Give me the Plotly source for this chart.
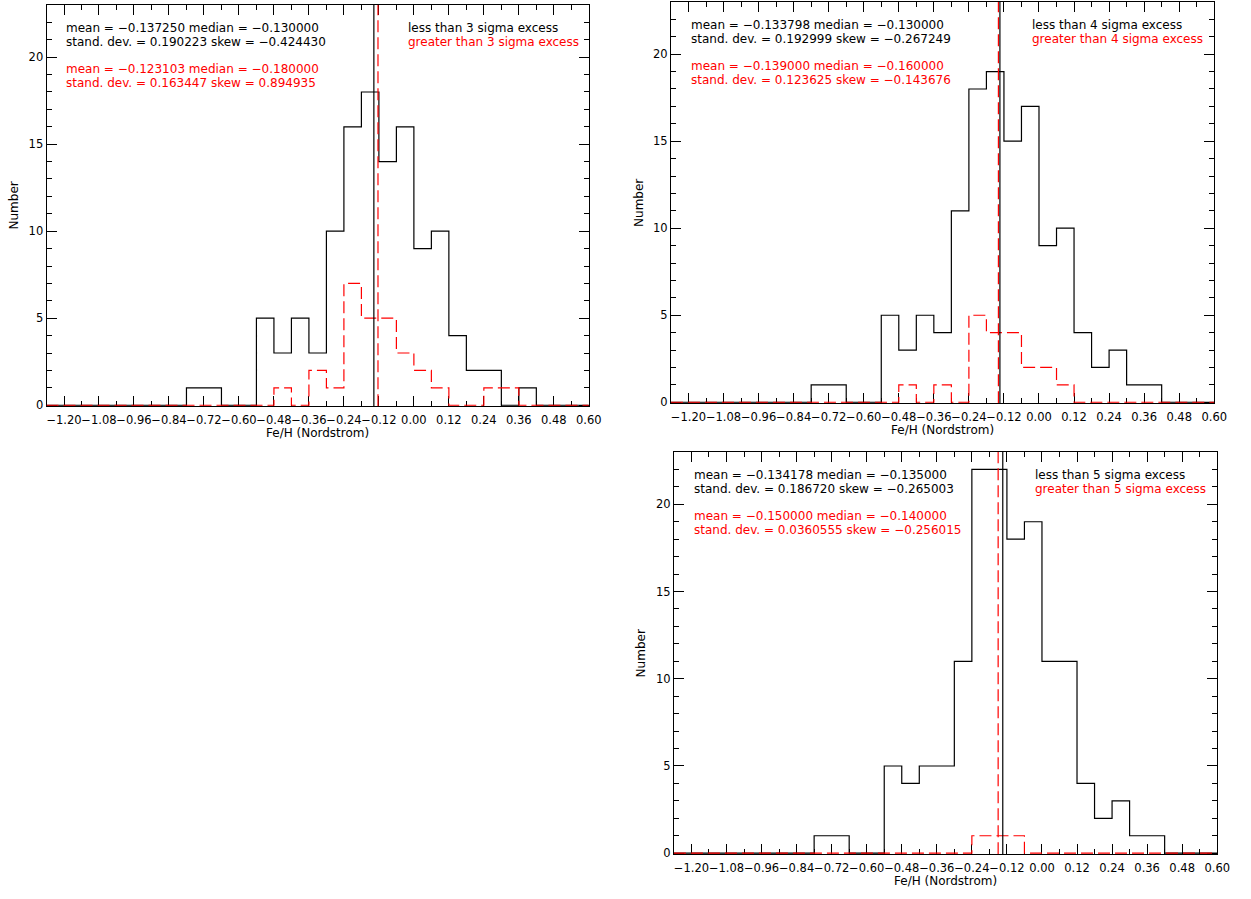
import plotly.graph_objects as go

W, H = 1251, 899

# ---------------- data ----------------
bin_edges = [-1.26, -1.20, -1.14, -1.08, -1.02, -0.96, -0.90, -0.84, -0.78, -0.72,
             -0.66, -0.60, -0.54, -0.48, -0.42, -0.36, -0.30, -0.24, -0.18, -0.12,
             -0.06, 0.00, 0.06, 0.12, 0.18, 0.24, 0.30, 0.36, 0.42, 0.48, 0.54, 0.60]

# counts per bin (31 bins)
less3 = [0, 0, 0, 0, 0, 0, 0, 0, 1, 1, 0, 0, 5, 3, 5, 3, 10, 16, 18, 14, 16, 9, 10, 4, 2, 2, 0, 1, 0, 0, 0]
greater3 = [0, 0, 0, 0, 0, 0, 0, 0, 0, 0, 0, 0, 0, 1, 0, 2, 1, 7, 5, 5, 3, 2, 1, 0, 0, 1, 1, 0, 0, 0, 0]
less4 = [0, 0, 0, 0, 0, 0, 0, 0, 1, 1, 0, 0, 5, 3, 5, 4, 11, 18, 19, 15, 17, 9, 10, 4, 2, 3, 1, 1, 0, 0, 0]
greater4 = [0, 0, 0, 0, 0, 0, 0, 0, 0, 0, 0, 0, 0, 1, 0, 1, 0, 5, 4, 4, 2, 2, 1, 0, 0, 0, 0, 0, 0, 0, 0]
less5 = [0, 0, 0, 0, 0, 0, 0, 0, 1, 1, 0, 0, 5, 4, 5, 5, 11, 22, 22, 18, 19, 11, 11, 4, 2, 3, 1, 1, 0, 0, 0]
greater5 = [0, 0, 0, 0, 0, 0, 0, 0, 0, 0, 0, 0, 0, 0, 0, 0, 0, 1, 1, 1, 0, 0, 0, 0, 0, 0, 0, 0, 0, 0, 0]

sigma_levels = ["3", "4", "5"]
mean_less = [-0.137250, -0.133798, -0.134178]
median_less = ["−0.130000", "−0.130000", "−0.135000"]
mean_less_txt = ["−0.137250", "−0.133798", "−0.134178"]
std_less = ["0.190223", "0.192999", "0.186720"]
skew_less = ["−0.424430", "−0.267249", "−0.265003"]
mean_greater = [-0.123103, -0.139000, -0.150000]
mean_greater_txt = ["−0.123103", "−0.139000", "−0.150000"]
median_greater = ["−0.180000", "−0.160000", "−0.140000"]
std_greater = ["0.163447", "0.123625", "0.0360555"]
skew_greater = ["0.894935", "−0.143676", "−0.256015"]

x_tickvals = [-1.20, -1.08, -0.96, -0.84, -0.72, -0.60, -0.48, -0.36, -0.24, -0.12,
              0.00, 0.12, 0.24, 0.36, 0.48, 0.60]
x_ticktext = ["−1.20", "−1.08", "−0.96", "−0.84", "−0.72", "−0.60", "−0.48", "−0.36",
              "−0.24", "−0.12", "0.00", "0.12", "0.24", "0.36", "0.48", "0.60"]
y_tickvals = [0, 5, 10, 15, 20]

x_range = [-1.26, 0.60]
y_range = [-0.06, 23.0]

# ---------------- layout geometry (pixels) ----------------
panels = [
    dict(l=47, r=595, t=5, b=409, less=less3, greater=greater3),
    dict(l=678, r=1227, t=2, b=406, less=less4, greater=greater4),
    dict(l=681, r=1230, t=455, b=860, less=less5, greater=greater5),
]

FONT = "DejaVu Sans, Verdana, sans-serif"
RED = "#ff0000"
DASH = "12px,5px"


def px(x):
    return x / W


def py(y):
    return 1 - y / H


fig = go.Figure()
layout = dict(
    width=W, height=H, margin=dict(l=0, r=0, t=0, b=0),
    paper_bgcolor="white", plot_bgcolor="white", showlegend=False,
    font=dict(family=FONT, size=12, color="black"),
)
annotations = []


def step_y(c):
    return list(c) + [c[-1]]


def ann(x, y, text, color="black", xanchor="left", textangle=0):
    annotations.append(dict(x=px(x), y=py(y), xref="paper", yref="paper", text=text,
                            showarrow=False, xanchor=xanchor, yanchor="middle",
                            textangle=textangle,
                            font=dict(family=FONT, size=12, color=color)))


for i, p in enumerate(panels):
    sfx = "" if i == 0 else str(i + 1)
    xa, ya = "x" + sfx, "y" + sfx

    fig.add_trace(go.Scatter(x=bin_edges, y=step_y(p["less"]), mode="lines",
                             line=dict(color="black", width=1.2, shape="hv"),
                             xaxis=xa, yaxis=ya, hoverinfo="skip"))
    fig.add_trace(go.Scatter(x=bin_edges, y=step_y(p["greater"]), mode="lines",
                             line=dict(color=RED, width=1.2, shape="hv", dash=DASH),
                             xaxis=xa, yaxis=ya, hoverinfo="skip"))
    fig.add_trace(go.Scatter(x=[mean_less[i], mean_less[i]], y=[y_range[0], y_range[1]],
                             mode="lines", line=dict(color="black", width=1.2),
                             xaxis=xa, yaxis=ya, hoverinfo="skip"))
    fig.add_trace(go.Scatter(x=[mean_greater[i], mean_greater[i]], y=[y_range[0], y_range[1]],
                             mode="lines", line=dict(color=RED, width=1.2, dash=DASH),
                             xaxis=xa, yaxis=ya, hoverinfo="skip"))

    xkey = "xaxis" + sfx
    ykey = "yaxis" + sfx
    layout[xkey] = dict(
        domain=[px(p["l"]), px(p["r"])], anchor=ya, range=x_range,
        tickmode="array", tickvals=x_tickvals, ticktext=x_ticktext, tickangle=0,
        ticks="inside", ticklen=10, tickcolor="black", tickwidth=1,
        minor=dict(dtick=0.06, tick0=-1.20, ticks="inside", ticklen=5, tickcolor="black"),
        showline=True, linecolor="black", linewidth=1, mirror="allticks",
        showgrid=False, zeroline=False, layer="below traces",
        ticklabelstandoff=3,
        tickfont=dict(family=FONT, size=11.5, color="black"),
    )
    layout[ykey] = dict(
        domain=[py(p["b"]), py(p["t"])], anchor=xa, range=y_range,
        tickmode="array", tickvals=y_tickvals, tickangle=0,
        ticks="inside", ticklen=10, tickcolor="black", tickwidth=1,
        minor=dict(dtick=1, tick0=0, ticks="inside", ticklen=5, tickcolor="black"),
        showline=True, linecolor="black", linewidth=1, mirror="allticks",
        showgrid=False, zeroline=False, layer="below traces",
        tickfont=dict(family=FONT, size=11.5, color="black"),
    )

    tx = p["l"] + 18
    ty = p["t"] + 23
    ann(tx, ty, f"mean = {mean_less_txt[i]} median = {median_less[i]}")
    ann(tx, ty + 14.5, f"stand. dev. = {std_less[i]} skew = {skew_less[i]}")
    ann(tx, ty + 41, f"mean = {mean_greater_txt[i]} median = {median_greater[i]}", RED)
    ann(tx, ty + 55.5, f"stand. dev. = {std_greater[i]} skew = {skew_greater[i]}", RED)
    rx = p["l"] + 363
    ann(rx, ty, f"less than {sigma_levels[i]} sigma excess")
    ann(rx, ty + 14.5, f"greater than {sigma_levels[i]} sigma excess", RED)
    # axis titles
    ann((p["l"] + p["r"]) / 2, p["b"] + 27, "Fe/H (Nordstrom)", xanchor="center")
    ann(p["l"] - 33, (p["t"] + p["b"]) / 2, "Number", xanchor="center", textangle=-90)

layout["annotations"] = annotations
fig.update_layout(**layout)
fig.write_html("out.html")
